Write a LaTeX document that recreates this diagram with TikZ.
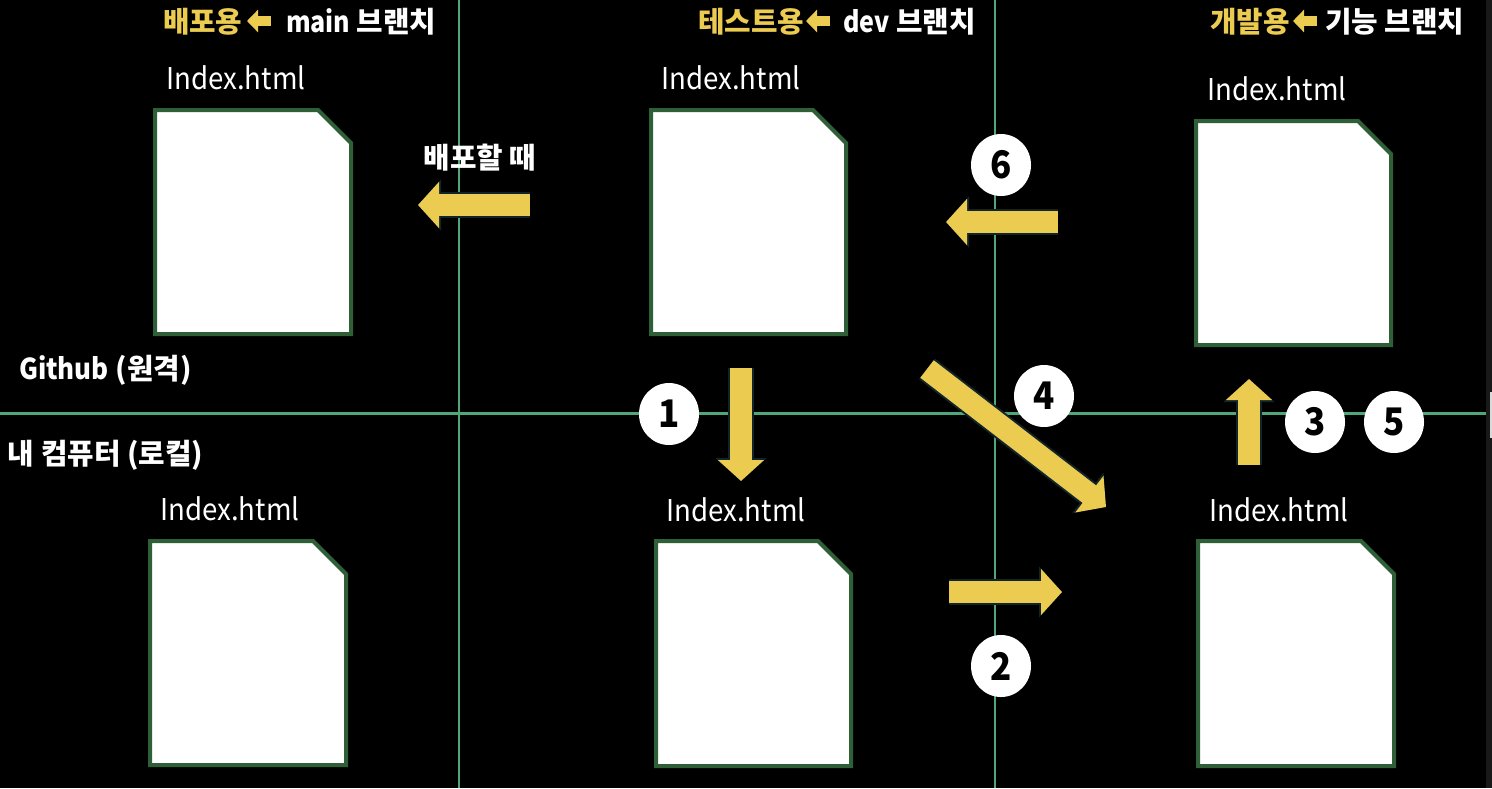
\documentclass[tikz,border=0pt]{standalone}
\usepackage{fontspec}
\setmainfont{Noto Sans CJK KR}
\newfontfamily\condfont{Noto Sans CJK KR}[FakeStretch=0.92]
\usetikzlibrary{arrows.meta,shapes.geometric}
\definecolor{gridgreen}{HTML}{4FA77A}
\definecolor{docgreen}{HTML}{2F5F36}
\definecolor{arrowyellow}{HTML}{EBCB50}
\definecolor{arrowedge}{HTML}{10252B}
\begin{document}
\begin{tikzpicture}[x=0.5pt,y=-0.5pt,every node/.style={inner sep=0pt,outer sep=0pt},
    filedoc/.style={draw=docgreen,fill=white,line width=2pt},
    filename/.style={text=white,font=\fontsize{15}{15}\condfont},
    caption/.style={text=white,font=\fontsize{14.4}{14.4}\selectfont\bfseries},
    usage/.style={text=arrowyellow,font=\fontsize{14.4}{14.4}\selectfont\bfseries},
    stepnum/.style={ellipse,fill=white,minimum width=30pt,minimum height=31pt,text=black,font=\fontsize{19}{19}\condfont\bfseries},
    gridline/.style={draw=gridgreen,line width=1.2pt},
    movearrow/.style={draw=arrowyellow,line width=11pt,
      preaction={draw=arrowedge,line width=13pt,-{Triangle[width=25pt,length=11.5pt,color=arrowedge]}},
      -{Triangle[width=22.5pt,length=10.5pt,color=arrowyellow]}},
    minarrow/.style={draw=arrowyellow,line width=5pt,-{Triangle[width=11pt,length=5.5pt,color=arrowyellow]}}]
      \fill[black] (0,0) rectangle (1492,788);
      \useasboundingbox (0,0) rectangle (1492,788);

      \fill[black!90!white] (1486,0) rectangle (1492,788);
      \fill[black!15!white] (1490,392) rectangle (1492,438);

      \coordinate (gridT1) at (459,0);
      \coordinate (gridB1) at (459,788);
      \coordinate (gridT2) at (995,0);
      \coordinate (gridB2) at (995,788);
      \coordinate (gridL) at (0,413.5);
      \coordinate (gridR) at (1486,413.5);
      \draw[gridline] (gridT1) -- (gridB1);
      \draw[gridline] (gridT2) -- (gridB2);
      \draw[gridline] (gridL) -- (gridR);

      \node[usage,anchor=west] (useMain) at (163,22) {배포용};
      \node[caption,anchor=west] (capMain) at (286,22) {{\fontspec{Noto Sans CJK KR}[FakeStretch=0.87]main} 브랜치};
      \node[usage,anchor=west] (useDev) at (698,22) {테스트용};
      \node[caption,anchor=west] (capDev) at (843,22) {{\fontspec{Noto Sans CJK KR}[FakeStretch=0.87]dev} 브랜치};
      \node[usage,anchor=west] (useFeat) at (1210,22) {개발용};
      \node[caption,anchor=west] (capFeat) at (1325,22) {기능 브랜치};

      \coordinate (minA1) at (271,21);
      \coordinate (minA2) at (247,21);
      \coordinate (minB1) at (830,21);
      \coordinate (minB2) at (806,21);
      \coordinate (minC1) at (1317,21);
      \coordinate (minC2) at (1293,21);
      \draw[minarrow] (minA1) -- (minA2);
      \draw[minarrow] (minB1) -- (minB2);
      \draw[minarrow] (minC1) -- (minC2);

      \node[filename] (nameA) at (236,78) {Index.html};
      \node[filename] (nameB) at (731,78) {Index.html};
      \node[filename] (nameC) at (1277,89) {Index.html};
      \node[filename] (nameD) at (230,509) {Index.html};
      \node[filename] (nameE) at (736,510) {Index.html};
      \node[filename] (nameF) at (1279,510) {Index.html};

      \draw[filedoc] (155,110) -- ++(163,0) -- ++(33,33) -- ++(0,191) -- ++(-196,0) -- cycle;
      \draw[filedoc] (651,110) -- ++(162,0) -- ++(33,33) -- ++(0,191) -- ++(-195,0) -- cycle;
      \draw[filedoc] (1196,121) -- ++(162,0) -- ++(33,33) -- ++(0,191) -- ++(-195,0) -- cycle;
      \draw[filedoc] (150,541) -- ++(163,0) -- ++(33,33) -- ++(0,191) -- ++(-196,0) -- cycle;
      \draw[filedoc] (656,541) -- ++(162,0) -- ++(33,33) -- ++(0,192) -- ++(-195,0) -- cycle;
      \draw[filedoc] (1198,541) -- ++(163,0) -- ++(33,33) -- ++(0,192) -- ++(-196,0) -- cycle;

      \node[caption,anchor=west] (remote) at (19,370) {{\fontspec{Noto Sans CJK KR}[FakeStretch=0.9]Github} (원격)};
      \node[caption,anchor=west] (local) at (8,455) {내 컴퓨터 (로컬)};
      \node[caption] (deploy) at (480,158) {배포할 때};

      \coordinate (deployS) at (530,205);
      \coordinate (deployE) at (418,205);
      \coordinate (moveS1) at (741,368);
      \coordinate (moveE1) at (741,481);
      \coordinate (moveS2) at (949,592);
      \coordinate (moveE2) at (1062,592);
      \coordinate (moveS3) at (1249,465);
      \coordinate (moveE3) at (1249,379);
      \coordinate (moveS4) at (927,369);
      \coordinate (moveE4) at (1106,507);
      \coordinate (moveS6) at (1058,222);
      \coordinate (moveE6) at (946,222);
      \draw[movearrow] (deployS) -- (deployE);
      \draw[movearrow] (moveS1) -- (moveE1);
      \draw[movearrow] (moveS2) -- (moveE2);
      \draw[movearrow] (moveS3) -- (moveE3);
      \draw[movearrow] (moveS4) -- (moveE4);
      \draw[movearrow] (moveS6) -- (moveE6);

      \node[stepnum] (num1) at (669,414) {1};
      \node[stepnum] (num2) at (1001,666) {2};
      \node[stepnum] (num3) at (1315,422) {3};
      \node[stepnum] (num4) at (1044,396) {4};
      \node[stepnum] (num5) at (1394,422) {5};
      \node[stepnum] (num6) at (1001,165) {6};
    \end{tikzpicture}
\end{document}
